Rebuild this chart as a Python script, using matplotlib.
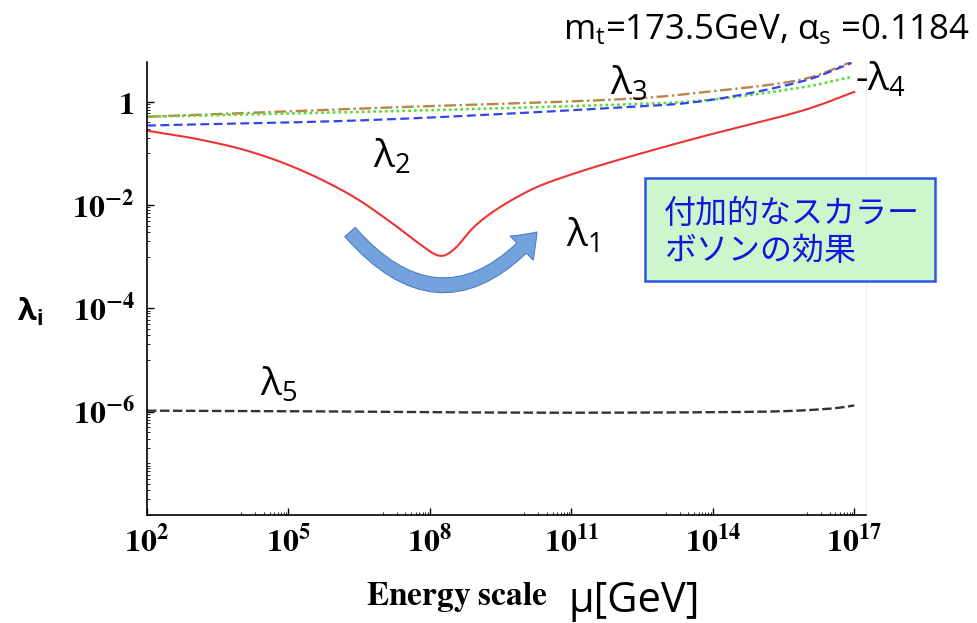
import numpy as np
import matplotlib
matplotlib.use('Agg')
import matplotlib.pyplot as plt
from matplotlib.ticker import FixedLocator, NullFormatter
from matplotlib.patches import FancyArrowPatch, Rectangle

plt.rcParams['mathtext.fontset'] = 'custom'
plt.rcParams['mathtext.rm'] = 'Open Sans'
plt.rcParams['mathtext.it'] = 'Open Sans'
plt.rcParams['mathtext.bf'] = 'Open Sans:bold'
plt.rcParams['font.family'] = ['Open Sans', 'DejaVu Sans']

# 読み取り値 (log10 mu, log10 lambda)
lam1_logmu = [2.0, 3.11, 4.17, 5.23, 6.29, 7.14, 7.78, 8.20, 8.52, 8.94, 9.47, 10.2,
              10.96, 12.02, 13.71, 15.83, 17.0]
lam1_log = [-0.56, -0.73, -0.96, -1.31, -1.79, -2.31, -2.75, -2.98, -2.85, -2.42, -2.05,
            -1.68, -1.42, -1.12, -0.69, -0.19, 0.19]

upper_logmu = [2.0, 6.84, 11.85, 13.84, 15.83, 16.94]
lam2_log = [-0.46, -0.35, -0.12, 0.02, 0.38, 0.75]   # blue dashed
lam3_log = [-0.29, -0.12, 0.04, 0.19, 0.42, 0.77]    # brown dash-dot
lam4_log = [-0.29, -0.19, -0.06, 0.03, 0.27, 0.48]   # green dotted

lam5_logmu = [2.0, 5.0, 8.0, 11.0, 14.0, 15.5, 16.5, 17.0]
lam5_log = [-5.98, -5.99, -6.01, -6.02, -6.01, -5.99, -5.94, -5.88]

x_exps = [2, 5, 8, 11, 14, 17]
xlabels = [r'$\mathbf{10^{2}}$', r'$\mathbf{10^{5}}$', r'$\mathbf{10^{8}}$',
           r'$\mathbf{10^{11}}$', r'$\mathbf{10^{14}}$', r'$\mathbf{10^{17}}$']
y_exps = [-6, -4, -2, 0]
ylabels = [r'$\mathbf{10^{-6}}$', r'$\mathbf{10^{-4}}$', r'$\mathbf{10^{-2}}$', r'$\mathbf{1}$']


def smooth(xs, ys, n=30):
    # Catmull-Rom で点の間をなめらかにつなぐ
    p = np.column_stack([xs, ys]).astype(float)
    p = np.vstack([2 * p[0] - p[1], p, 2 * p[-1] - p[-2]])
    out = []
    t = np.linspace(0, 1, n, endpoint=False)[:, None]
    for i in range(1, len(p) - 2):
        p0, p1, p2, p3 = p[i - 1], p[i], p[i + 1], p[i + 2]
        seg = 0.5 * ((2 * p1) + (-p0 + p2) * t + (2 * p0 - 5 * p1 + 4 * p2 - p3) * t ** 2
                     + (-p0 + 3 * p1 - 3 * p2 + p3) * t ** 3)
        out.append(seg)
    out.append(p[-2][None, :])
    out = np.vstack(out)
    return out[:, 0], out[:, 1]


fig = plt.figure(figsize=(9.77, 6.23), dpi=100)
ax = fig.add_axes([147 / 977, 1 - 515 / 623, (866 - 147) / 977, (515 - 62) / 623])

for xs, ys, c, ls, lw in [
        (upper_logmu, lam3_log, '#b8864b', (0, (5, 1.5, 1, 1.5)), 1.7),
        (upper_logmu, lam4_log, '#55dd33', (0, (1, 1.2)), 1.9),
        (upper_logmu, lam2_log, '#3344ee', (0, (4, 2)), 1.6),
        (lam1_logmu, lam1_log, '#ee3333', '-', 1.5),
        (lam5_logmu, lam5_log, '#333333', (0, (4, 1.5)), 1.7)]:
    xx, yy = smooth(xs, ys)
    ax.plot(10 ** xx, 10 ** yy, color=c, linestyle=ls, linewidth=lw)

ax.set_xscale('log')
ax.set_yscale('log')
ax.set_xlim(1e2, 10 ** 17.25)
ax.set_ylim(1e-8, 10 ** 0.77)

ax.set_xticks([10.0 ** e for e in x_exps], xlabels, math_fontfamily='stix', fontsize=23)
ax.set_yticks([10.0 ** e for e in y_exps], ylabels, math_fontfamily='stix', fontsize=23)
# 目盛の直前の1桁だけに小目盛
ax.xaxis.set_minor_locator(FixedLocator([m * 10.0 ** (e - 1) for e in x_exps[1:] for m in range(1, 10)]))
ax.yaxis.set_minor_locator(FixedLocator([m * 10.0 ** (e - 1) for e in [-6, -4, -2, 0] for m in range(1, 10)]
                                        + [m * 1e-8 for m in range(1, 10)]))
ax.xaxis.set_minor_formatter(NullFormatter())
ax.yaxis.set_minor_formatter(NullFormatter())
ax.tick_params(which='major', direction='in', length=5, width=1.0)
ax.tick_params(which='minor', direction='in', length=2.5, width=0.6)
ax.tick_params(axis='x', which='major', pad=8)
ax.tick_params(axis='y', which='major', pad=9)

ax.spines['top'].set_visible(False)
ax.spines['right'].set_color('#eeeeee')
ax.spines['left'].set_linewidth(1.2)
ax.spines['bottom'].set_linewidth(1.2)

# 軸ラベル
fig.text(30 / 977, 1 - 312 / 623, r'$\mathbf{\lambda_{i}}$', fontsize=22,
         ha='center', va='center')
fig.text(548 / 977, 1 - 597 / 623, r'$\mathbf{Energy\ scale}$', math_fontfamily='stix',
         fontsize=24, ha='right', va='center')
fig.text(568 / 977, 1 - 601 / 623, 'μ[GeV]', fontsize=30, ha='left', va='center')

# 曲線ラベル
fig.text(610 / 977, 1 - 84 / 623, r'λ$_3$', fontsize=28, ha='left', va='center')
fig.text(373 / 977, 1 - 157 / 623, r'λ$_2$', fontsize=28, ha='left', va='center')
fig.text(566 / 977, 1 - 236 / 623, r'λ$_1$', fontsize=28, ha='left', va='center')
fig.text(855 / 977, 1 - 80 / 623, r'-λ$_4$', fontsize=28, ha='left', va='center')
fig.text(260 / 977, 1 - 385 / 623, r'λ$_5$', fontsize=28, ha='left', va='center')
fig.text(970 / 977, 1 - 30 / 623, r'm$_t$=173.5GeV, α$_s$ =0.1184', fontsize=25,
         ha='right', va='center')

# 付加的なスカラーボソンの効果
box = Rectangle((645 / 977, 1 - 281 / 623), 290 / 977, 103 / 623, transform=fig.transFigure,
                facecolor='#ccf7cc', edgecolor='#2a55e8', linewidth=1.8)
fig.patches.append(box)
fig.text(664 / 977, 1 - 214 / 623, '付加的なスカラー', color='#1515dd', fontsize=23,
         family=['Noto Sans CJK JP', 'DejaVu Sans'], ha='left', va='center')
fig.text(664 / 977, 1 - 251 / 623, 'ボソンの効果', color='#1515dd', fontsize=23,
         family=['Noto Sans CJK JP', 'DejaVu Sans'], ha='left', va='center')

arrow = FancyArrowPatch((350 / 977, 1 - 232 / 623), (537 / 977, 1 - 232 / 623),
                        transform=fig.transFigure, connectionstyle='arc3,rad=0.57',
                        arrowstyle='simple,head_length=0.8,head_width=1.2,tail_width=0.5',
                        mutation_scale=20, facecolor='#73a2dc', edgecolor='#4d7fc4',
                        linewidth=0.8, shrinkA=0, shrinkB=0)
fig.patches.append(arrow)

plt.savefig('out.png', dpi=100)
